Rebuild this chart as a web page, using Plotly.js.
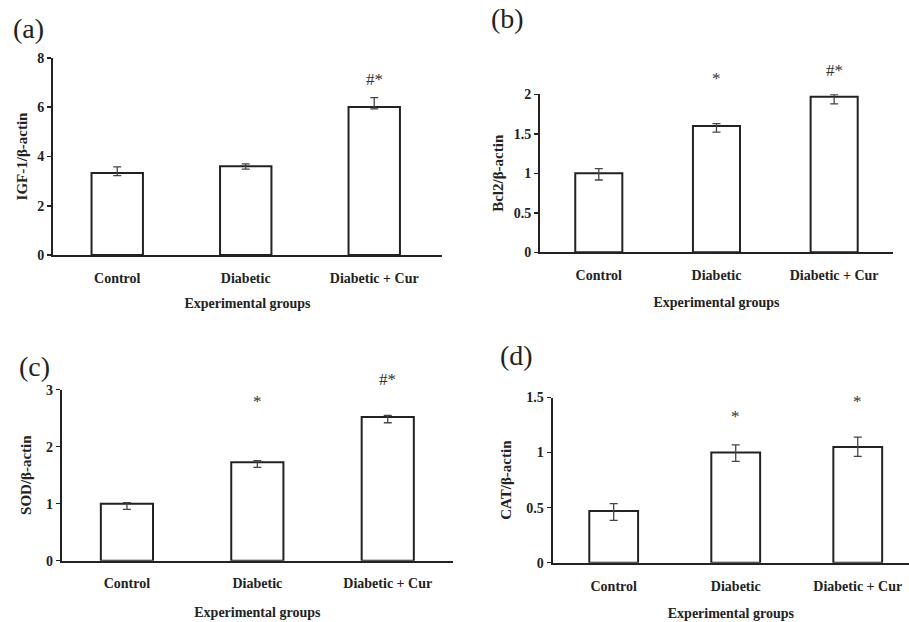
<!DOCTYPE html>
<html>
<head>
<meta charset="utf-8">
<script src="https://cdn.plot.ly/plotly-3.0.1.min.js"></script>
<style>html,body{margin:0;padding:0;background:#fff;}#chart{width:909px;height:622px;}</style>
</head>
<body>
<div id="chart"></div>
<script>
// ---- data ----
const groups = ["Control", "Diabetic", "Diabetic + Cur"];

const igfValues = [3.33, 3.60, 6.01];
const igfErrPlus = [0.25, 0.10, 0.38];
const igfErrMinus = [0.11, 0.11, 0.08];
const igfSig = ["", "", "#*"];
const igfSigY = [null, null, 7.11];

const bclValues = [1.00, 1.60, 1.97];
const bclErrPlus = [0.06, 0.03, 0.025];
const bclErrMinus = [0.085, 0.08, 0.09];
const bclSig = ["", "*", "#*"];
const bclSigY = [null, 2.206, 2.307];

const sodValues = [1.00, 1.726, 2.52];
const sodErrPlus = [0.02, 0.03, 0.03];
const sodErrMinus = [0.10, 0.09, 0.10];
const sodSig = ["", "*", "#*"];
const sodSigY = [null, 2.80, 3.17];

const catValues = [0.47, 1.00, 1.05];
const catErrPlus = [0.066, 0.07, 0.09];
const catErrMinus = [0.085, 0.08, 0.085];
const catSig = ["", "*", "*"];
const catSigY = [null, 1.325, 1.46];

const panelLabels = ["(a)", "(b)", "(c)", "(d)"];
const yTitles = ["IGF-1/β-actin", "Bcl2/β-actin", "SOD/β-actin", "CAT/β-actin"];
const xTitle = "Experimental groups";

// ---- styling ----
const SERIF = "'Liberation Serif', 'Times New Roman', Times, serif";
const INK = "#222";

function barTrace(vals, plus, minus, xa, ya) {
  return {
    type: "bar", x: groups, y: vals, xaxis: xa, yaxis: ya, width: 0.4,
    marker: {color: "#fff", line: {color: INK, width: 2}},
    error_y: {type: "data", symmetric: false, array: plus, arrayminus: minus,
              color: "#444", thickness: 1.3, width: 4},
    hoverinfo: "skip", showlegend: false
  };
}

const data = [
  barTrace(igfValues, igfErrPlus, igfErrMinus, "x", "y"),
  barTrace(bclValues, bclErrPlus, bclErrMinus, "x2", "y2"),
  barTrace(sodValues, sodErrPlus, sodErrMinus, "x3", "y3"),
  barTrace(catValues, catErrPlus, catErrMinus, "x4", "y4")
];

function xAx(domain, range, anchor, standoff) {
  return {
    domain: domain, range: range, anchor: anchor, type: "category",
    showline: true, linecolor: INK, linewidth: 2, ticks: "", showgrid: false,
    zeroline: false, ticklabelstandoff: 9,
    tickfont: {family: SERIF, size: 14, color: INK, weight: "bold"},
    title: {text: xTitle, standoff: standoff, font: {family: SERIF, size: 14, color: INK, weight: "bold"}},
    fixedrange: true
  };
}
function yAx(domain, range, dtick, anchor, title, standoff) {
  return {
    domain: domain, range: range, dtick: dtick, anchor: anchor,
    showline: true, linecolor: INK, linewidth: 2, ticks: "outside", ticklen: 4,
    tickwidth: 1.5, tickcolor: INK, showgrid: false, zeroline: false,
    tickfont: {family: SERIF, size: 14, color: INK, weight: "bold"},
    title: {text: title, standoff: standoff, font: {family: SERIF, size: 15, color: INK, weight: "bold"}},
    fixedrange: true
  };
}

const layout = {
  width: 909, height: 622,
  margin: {l: 0, r: 0, t: 0, b: 0},
  paper_bgcolor: "#fff", plot_bgcolor: "#fff",
  showlegend: false,
  xaxis: xAx([0.0583, 0.4862], [-0.5, 2.527], "y", 13),
  yaxis: yAx([0.590, 0.9068], [0, 8], 2, "x", yTitles[0], 6),
  xaxis2: xAx([0.594, 0.9824], [-0.5, 2.5], "y2", 15),
  yaxis2: yAx([0.5944, 0.8484], [0, 2], 0.5, "x2", yTitles[1], 6),
  xaxis3: xAx([0.0679, 0.4983], [-0.5, 2.5], "y3", 17),
  yaxis3: yAx([0.0986, 0.3735], [0, 3], 1, "x3", yTitles[2], 11),
  xaxis4: xAx([0.608, 1.0], [-0.5, 2.42], "y4", 16),
  yaxis4: yAx([0.0953, 0.3609], [0, 1.5], 0.5, "x4", yTitles[3], 11)
};

// significance marks: data value -> paper coordinates through each axis' domain/range
const annotations = [];
function addSig(labels, ys, xa, yKey) {
  const ax = layout[yKey];
  labels.forEach((t, i) => {
    if (!t) return;
    const frac = (ys[i] - ax.range[0]) / (ax.range[1] - ax.range[0]);
    annotations.push({text: t, x: groups[i], y: ax.domain[0] + frac * (ax.domain[1] - ax.domain[0]),
      xref: xa, yref: "paper", showarrow: false, yanchor: "middle",
      font: {family: SERIF, size: 17, color: "#333"}});
  });
}
addSig(igfSig, igfSigY, "x", "yaxis");
addSig(bclSig, bclSigY, "x2", "yaxis2");
addSig(sodSig, sodSigY, "x3", "yaxis3");
addSig(catSig, catSigY, "x4", "yaxis4");

const labelPos = [[28, 29], [507, 18], [34, 366], [516, 355]];
panelLabels.forEach((t, i) => {
  annotations.push({text: t, xref: "paper", yref: "paper",
    x: labelPos[i][0] / 909, y: 1 - labelPos[i][1] / 622,
    xanchor: "center", yanchor: "middle", showarrow: false,
    font: {family: SERIF, size: 28, color: INK}});
});
layout.annotations = annotations;

Plotly.newPlot("chart", data, layout, {displayModeBar: false, staticPlot: true});
</script>
</body>
</html>
